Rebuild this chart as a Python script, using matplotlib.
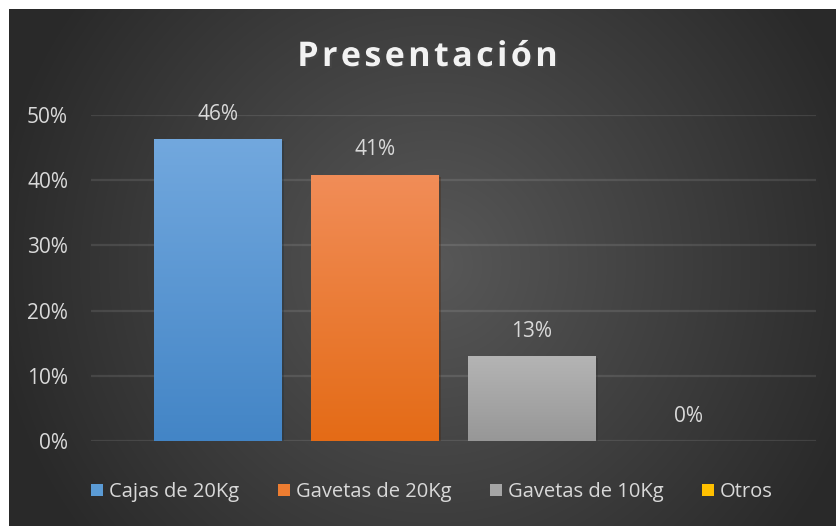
import numpy as np
import matplotlib
matplotlib.use("Agg")
import matplotlib.pyplot as plt
import matplotlib.patheffects as pe
from matplotlib.colors import to_rgb
from matplotlib.patches import Patch
from matplotlib.ticker import PercentFormatter

plt.rcParams['font.family'] = ['Open Sans', 'DejaVu Sans']

# ---- data ----
series = ["Cajas de 20Kg", "Gavetas de 20Kg", "Gavetas de 10Kg", "Otros"]
values = [0.463, 0.408, 0.13, 0.0]
labels = ["46%", "41%", "13%", "0%"]
top_colors = ["#72a8de", "#f18d58", "#b4b4b4", "#ffcc33"]
bottom_colors = ["#4385c6", "#e46b16", "#979797", "#ffc000"]
legend_colors = ["#5b9bd5", "#ed7d31", "#a5a5a5", "#ffc000"]
yticks = [0, 0.1, 0.2, 0.3, 0.4, 0.5]
title = "Presentación"

W, H = 836, 526
fig = plt.figure(figsize=(W / 100, H / 100), dpi=100, facecolor="white")

# background with radial gradient
bg = fig.add_axes([9 / W, 0, (W - 9) / W, (H - 9) / H])
bg.set_axis_off()
yy, xx = np.mgrid[0:H - 9, 0:W - 9]
cx, cy = 425, 255
r = np.sqrt((xx - cx) ** 2 + (yy - cy) ** 2) / 450.0
r = np.clip(r, 0, 1)
c_center, c_edge = 0x58 / 255, 0x29 / 255
val = c_center + (c_edge - c_center) * r
img = np.dstack([val, val, val])
bg.imshow(img, aspect="auto", extent=(0, 1, 0, 1), origin="upper")
bg.set_xlim(0, 1)
bg.set_ylim(0, 1)

ax = fig.add_axes([91 / W, 1 - 441 / H, (816 - 91) / W, (441 - 115) / H])
ax.set_facecolor("none")
for s in ax.spines.values():
    s.set_visible(False)

x = np.arange(len(series))
bw = 128 / 157
bars = ax.bar(x, values, width=bw, color=legend_colors, zorder=3,
              path_effects=[pe.SimplePatchShadow(offset=(1.5, -1.5), alpha=0.35),
                            pe.Normal()])
for b, tc, bc, v in zip(bars, top_colors, bottom_colors, values):
    if v <= 0:
        continue
    grad = np.linspace(0, 1, 256)[:, None]
    t = np.array(to_rgb(tc))
    bo = np.array(to_rgb(bc))
    g = t[None, None, :] * (1 - grad[..., None]) + bo[None, None, :] * grad[..., None]
    g = np.repeat(g, 2, axis=1)
    im = ax.imshow(g, extent=(b.get_x(), b.get_x() + b.get_width(), 0, b.get_height()),
                   aspect="auto", origin="upper", zorder=4)
    im.set_clip_path(b)

for xi, v, lab in zip(x, values, labels):
    ax.annotate(lab, (xi, v), xytext=(0, 18), textcoords="offset points",
                ha="center", va="center", color="#d9d9d9", fontsize=15, zorder=5)

ax.set_xlim(-0.809, 3.809)
ax.set_ylim(0, 0.5)
ax.set_yticks(yticks)
ax.yaxis.set_major_formatter(PercentFormatter(1.0, decimals=0))
ax.set_xticks([])
ax.tick_params(axis="y", length=0, pad=16.5, labelcolor="#d9d9d9", labelsize=15)
ax.grid(axis="y", color="#ffffff", alpha=0.1, linewidth=1.6, zorder=0)
ax.set_axisbelow(True)

fig.text(427 / W, 1 - 57 / H, "\u200a".join(title), ha="center", va="center",
         fontsize=24.5, fontweight="bold", color="#f2f2f2",
         path_effects=[pe.withSimplePatchShadow(offset=(1.5, -1.5), alpha=0.6)])

handles = [Patch(facecolor=c, edgecolor="none") for c in legend_colors]
fig.legend(handles, series, loc="center", bbox_to_anchor=(432 / W, 1 - 492 / H),
           ncol=4, frameon=False, fontsize=14.5, labelcolor="#d9d9d9",
           handlelength=0.6, handleheight=0.6, handletextpad=0.3, columnspacing=1.9)

fig.savefig("out.png", dpi=100, facecolor="white")
